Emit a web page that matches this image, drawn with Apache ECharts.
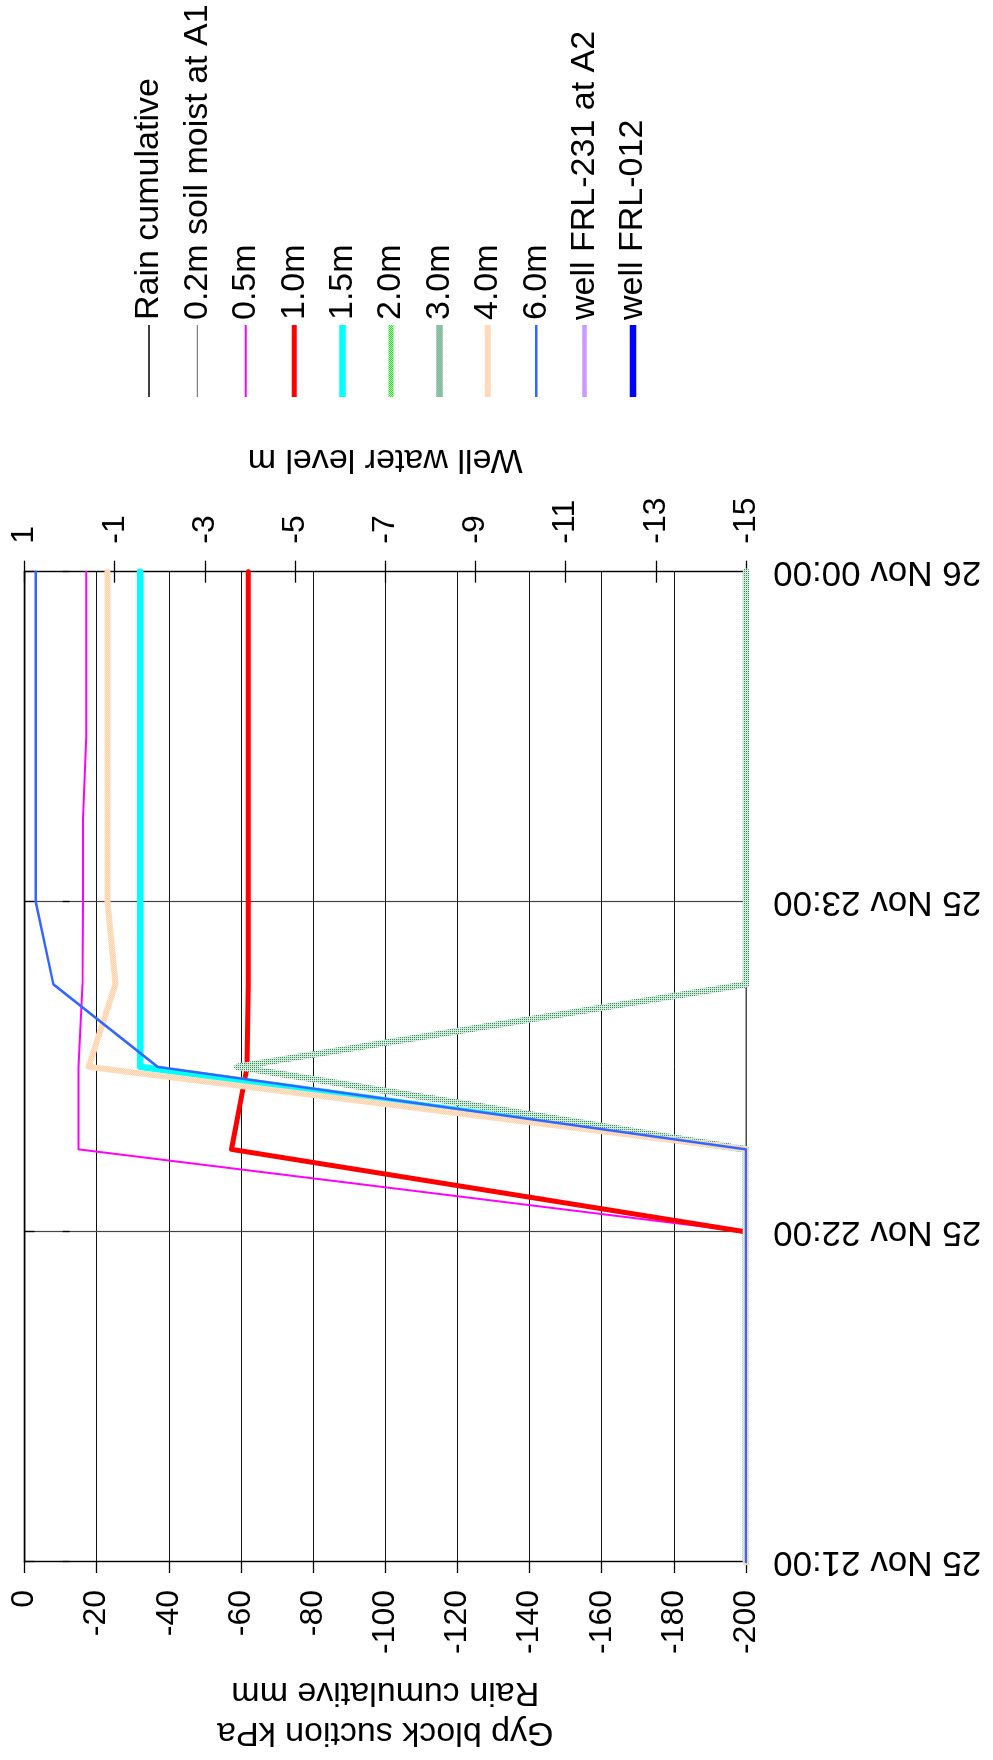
<!DOCTYPE html>
<html><head><meta charset="utf-8">
<script src="https://cdn.jsdelivr.net/npm/echarts@6/dist/echarts.min.js"></script>
<style>
html,body{margin:0;padding:0;background:#fff;overflow:hidden;width:993px;height:1760px;}
#chart{position:absolute;left:0;top:0;width:1760px;height:993px;transform-origin:0 0;transform:translate(0,1760px) rotate(-90deg);background:#fff;}
</style></head><body><div id="chart"></div>
<script>
// ---- data ----
const timeHours = [21, 21.25, 21.5, 21.75, 22, 22.25, 22.5, 22.75, 23, 23.25, 23.5, 23.75, 24];
const timeTicks = [21, 22, 23, 24];
const timeTickLabels = ['25 Nov 21:00', '25 Nov 22:00', '25 Nov 23:00', '26 Nov 00:00'];
const wellTicks = [-15, -13, -11, -9, -7, -5, -3, -1, 1];

const rainCumulative = [0, 0, 0, 0, 0, 0, 0, 0, 0, 0, 0, 0, 0];
const soil02 = [-200, -200, -200, -200, -200, -200, -200, -200, -200, -200, -200, -200, -200];
const gyp05 = [-200, -200, -200, -200, -200, -15.0, -15.0, -16.1, -16.2, -16.2, -17.1, -17.1, -17.1];
const gyp10 = [-200, -200, -200, -200, -200, -57.4, -61.7, -62.0, -62.0, -62.0, -62.0, -62.0, -62.0];
const gyp15 = [-200, -200, -200, -200, -200, -200, -32.1, -32.1, -32.1, -32.1, -32.1, -32.1, -32.1];
const gyp20 = [-200, -200, -200, -200, -200, -200, -59.0, -200, -200, -200, -200, -200, -200];
const gyp30 = [-200, -200, -200, -200, -200, -200, -59.0, -200, -200, -200, -200, -200, -200];
const gyp40 = [-200, -200, -200, -200, -200, -200, -17.8, -25.2, -23.0, -23.0, -23.0, -23.0, -23.0];
const gyp60 = [-200, -200, -200, -200, -200, -200, -36.9, -8.0, -3.1, -3.1, -3.1, -3.1, -3.1];
const wellFRL231 = [];
const wellFRL012 = [];

// ---- helpers ----
function pat(dark, bg, dots) {
  const cv = document.createElement('canvas');
  cv.width = 2; cv.height = 2;
  const g = cv.getContext('2d');
  g.fillStyle = bg; g.fillRect(0, 0, 2, 2);
  g.fillStyle = dark; g.fillRect(0, 0, 1, 1);
  if (dots > 1) g.fillRect(1, 1, 1, 1);
  return { image: cv, repeat: 'repeat' };
}
function pts(vals) { return vals.map((v, i) => [timeHours[i], v]); }
const FONT = '"Liberation Sans", Arial, sans-serif';
const IW = 72, IH = 14;
function iconPath(w) {
  const a = (IH - w) / 2, b = (IH + w) / 2;
  return 'path://M0,0M' + IW + ',' + IH + 'M0,' + a + 'L' + IW + ',' + a + 'L' + IW + ',' + b + 'L0,' + b + 'Z';
}

const specs = [
  { name: 'Rain cumulative', vals: rainCumulative, color: '#000000', width: 1.5, y: 0 },
  { name: '0.2m soil moist at A1', vals: soil02, color: '#808080', width: 1.3, y: 0 },
  { name: '0.5m', vals: gyp05, color: '#FF00FF', width: 2, y: 0 },
  { name: '1.0m', vals: gyp10, color: '#FF0000', width: 5, y: 0 },
  { name: '1.5m', vals: gyp15, color: '#00FFFF', width: 6.5, y: 0 },
  { name: '2.0m', vals: gyp20, color: '#33FF33', width: 5, y: 0, stroke: pat('#22E022', '#B8FFB8', 2) },
  { name: '3.0m', vals: gyp30, color: '#9CCFB0', width: 6.5, y: 0, stroke: pat('#2E8E5E', '#D4EBDC', 1), legendStroke: pat('#2E8E5E', '#E4F2E8', 2) },
  { name: '4.0m', vals: gyp40, color: '#FFD9B8', width: 6, y: 0, stroke: pat('#FFD0A6', '#FFE4CE', 2) },
  { name: '6.0m', vals: gyp60, color: '#3366FF', width: 2.5, y: 0 },
  { name: 'well FRL-231 at A2', vals: wellFRL231, color: '#CC99FF', width: 4.5, y: 1 },
  { name: 'well FRL-012', vals: wellFRL012, color: '#0000FF', width: 6.5, y: 1 }
];

const series = specs.map(s => ({
  name: s.name, type: 'line', data: pts(s.vals), xAxisIndex: 0, yAxisIndex: s.y,
  symbol: 'none', showSymbol: false, animation: false, emphasis: { disabled: true },
  itemStyle: { color: s.color },
  lineStyle: { color: s.stroke || s.color, width: s.width, cap: 'round', join: 'round' }
}));
const legendData = specs.map(s => ({
  name: s.name, icon: iconPath(s.width),
  itemStyle: { color: s.legendStroke || s.stroke || s.color, borderWidth: 0 }
}));

const chart = echarts.init(document.getElementById('chart'), null, { renderer: 'canvas' });
const option = {
  animation: false,
  backgroundColor: '#fff',
  textStyle: { fontFamily: FONT, color: '#000' },
  grid: { left: 198, right: 571.7, top: 24.5, bottom: 247, containLabel: false },
  legend: {
    orient: 'vertical', left: 1358, top: 124, itemWidth: IW, itemHeight: IH, itemGap: 8.4,
    selectedMode: false, symbolKeepAspect: false,
    itemStyle: { borderWidth: 0 },
    textStyle: { fontSize: 34, lineHeight: 40, color: '#000', fontFamily: FONT },
    data: legendData
  },
  xAxis: [{
    type: 'value', min: 21, max: 24, interval: 1, position: 'bottom',
    axisLine: { show: true, lineStyle: { color: '#000', width: 1.3 } },
    axisTick: { show: true, inside: false, length: 10, lineStyle: { color: '#000', width: 1.3 } },
    axisLabel: { rotate: 90, fontSize: 35, margin: 27, color: '#000', fontFamily: FONT,
      formatter: v => { const i = timeTicks.indexOf(v); return i >= 0 ? timeTickLabels[i] : ''; } },
    splitLine: { show: true, lineStyle: { color: '#444', width: 1.2 } }
  }, {
    type: 'value', min: 21, max: 24, interval: 1, position: 'bottom',
    axisLine: { show: false },
    axisTick: { show: true, inside: true, length: 7, lineStyle: { color: '#000', width: 1.3 } },
    axisLabel: { show: false }, splitLine: { show: false }
  }],
  yAxis: [{
    type: 'value', min: -200, max: 0, interval: 20, position: 'left',
    axisLine: { show: true, lineStyle: { color: '#000', width: 1.3 } },
    axisTick: { show: true, inside: false, length: 11, lineStyle: { color: '#000', width: 1.3 } },
    axisLabel: { fontSize: 32, margin: 28, color: '#000', fontFamily: FONT },
    splitLine: { show: true, lineStyle: { color: '#111', width: 1 } },
    name: 'Gyp block suction kPa\nRain cumulative mm', nameLocation: 'middle', nameRotate: 90, nameGap: 110,
    nameTextStyle: { fontSize: 34, lineHeight: 40, color: '#000', fontFamily: FONT }
  }, {
    type: 'value', min: -15, max: 1, interval: 2, position: 'right',
    axisLine: { show: true, lineStyle: { color: '#000', width: 1.3 } },
    axisTick: { show: true, inside: false, length: 11, customValues: wellTicks, lineStyle: { color: '#000', width: 1.3 } },
    axisLabel: { fontSize: 32, margin: 28, color: '#000', fontFamily: FONT, customValues: wellTicks },
    splitLine: { show: false },
    name: 'Well water level m', nameLocation: 'middle', nameRotate: 90, nameGap: 92,
    nameTextStyle: { fontSize: 34, lineHeight: 40, color: '#000', fontFamily: FONT }
  }, {
    type: 'value', min: -15, max: 1, interval: 2, position: 'right',
    axisLine: { show: false },
    axisTick: { show: true, inside: true, length: 11, customValues: wellTicks, lineStyle: { color: '#000', width: 1.3 } },
    axisLabel: { show: false }, splitLine: { show: false }
  }],
  series: series
};
chart.setOption(option);
</script></body></html>
